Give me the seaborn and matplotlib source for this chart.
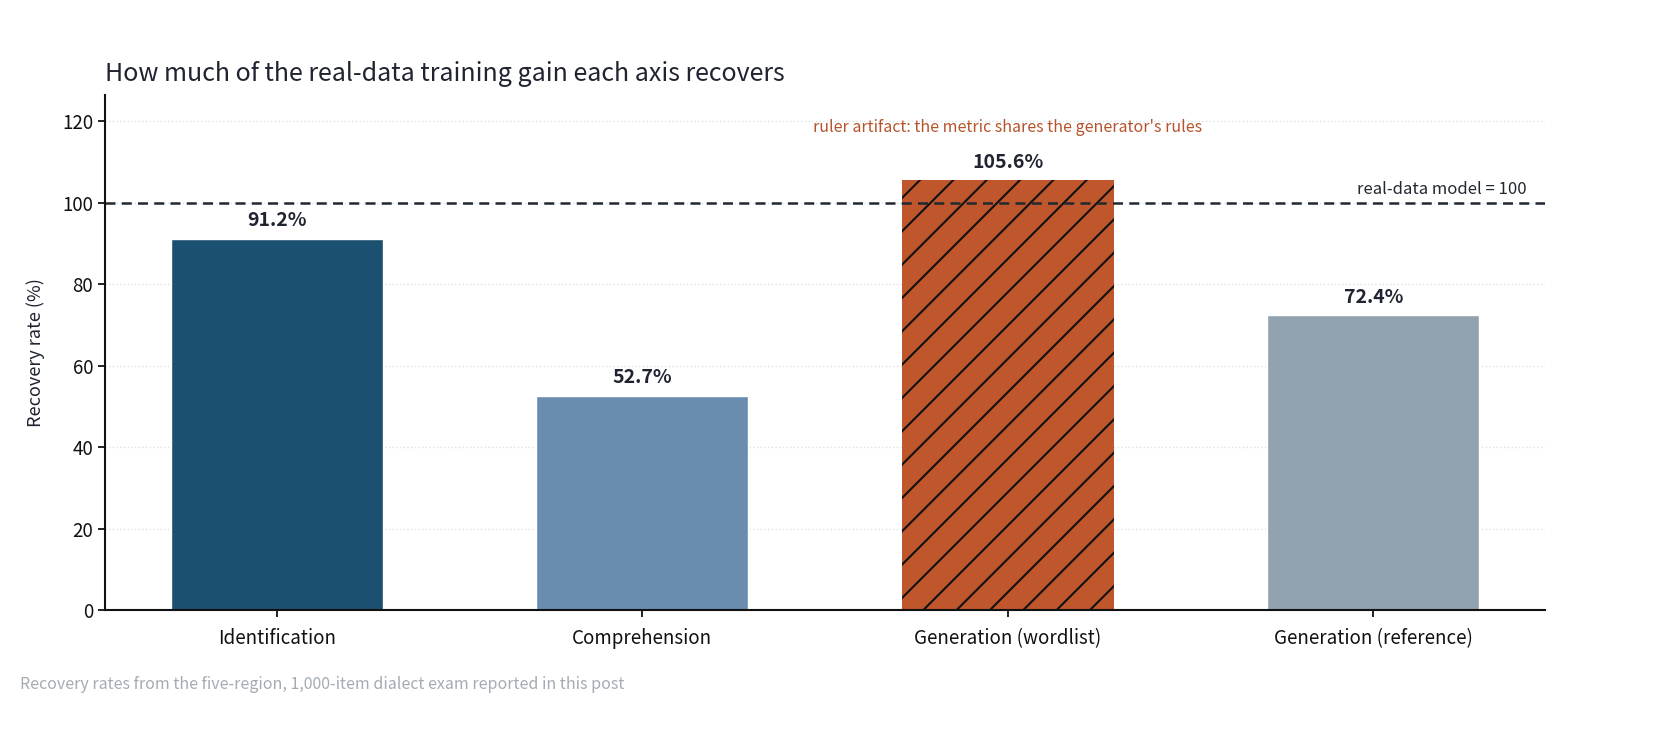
import pandas as pd
import matplotlib
matplotlib.use("Agg")
import matplotlib.pyplot as plt
import seaborn as sns

# =====================================================
# Data
# =====================================================

axes_names = [
    "Identification",
    "Comprehension",
    "Generation (wordlist)",
    "Generation (reference)",
]
recovery = [91.2, 52.7, 105.6, 72.4]
bar_colors = ["#1c5070", "#6a8caf", "#c0562b", "#91a2b1"]

df = pd.DataFrame({"axis": axes_names, "recovery": recovery})

# =====================================================
# Style
# =====================================================

sns.set_style("ticks")
plt.rcParams["font.family"] = ["Noto Sans CJK KR", "DejaVu Sans"]
plt.rcParams["hatch.linewidth"] = 1.5

fig = plt.figure(figsize=(16.64, 7.36), dpi=100)
ax = fig.add_axes([0.063, 0.171, 0.8655, 0.70])

sns.barplot(
    data=df,
    x="axis",
    y="recovery",
    hue="axis",
    palette=bar_colors,
    width=0.58,
    legend=False,
    saturation=1,
    ax=ax,
)

# hatch on the artifact bar
ax.patches[2].set_hatch("/")
ax.patches[2].set_edgecolor("#111111")
ax.patches[2].set_linewidth(0)

# value labels
for i, v in enumerate(recovery):
    ax.annotate(
        f"{v}%",
        (i, v),
        xytext=(0, 6),
        textcoords="offset points",
        ha="center",
        va="bottom",
        fontsize=14,
        fontweight="bold",
        color="#1f2430",
    )

# reference line
ax.axhline(100, color="#222831", linestyle=(0, (4, 2.5)), linewidth=1.8, zorder=1)
ax.text(
    3.42, 101.2, "real-data model = 100",
    ha="right", va="bottom", fontsize=12, color="#222831",
)

ax.text(
    2, 118.5, "ruler artifact: the metric shares the generator's rules",
    ha="center", va="center", fontsize=11.5, color="#b5532a",
)

# axes
ax.set_xlim(-0.47, 3.47)
ax.set_ylim(0, 126.5)
ax.set_yticks([0, 20, 40, 60, 80, 100, 120])
ax.yaxis.grid(True, linestyle=":", color="#dde1e5", linewidth=1)
ax.set_axisbelow(True)
ax.set_xlabel("")
ax.set_ylabel("Recovery rate (%)", fontsize=13, color="#1f2430", labelpad=12)
ax.tick_params(axis="both", labelsize=13.5, colors="#111111", length=5, width=1.3)
ax.tick_params(axis="x", pad=8)

sns.despine(ax=ax)
for s in ["left", "bottom"]:
    ax.spines[s].set_linewidth(1.5)
    ax.spines[s].set_color("#111111")

ax.set_title(
    "How much of the real-data training gain each axis recovers",
    loc="left", fontsize=18, color="#1f2430", pad=10,
)

fig.text(
    0.012, 0.07,
    "Recovery rates from the five-region, 1,000-item dialect exam reported in this post",
    fontsize=11.5, color="#a3abb4", ha="left", va="center",
)

fig.savefig("out.png", dpi=100)
plt.close(fig)
